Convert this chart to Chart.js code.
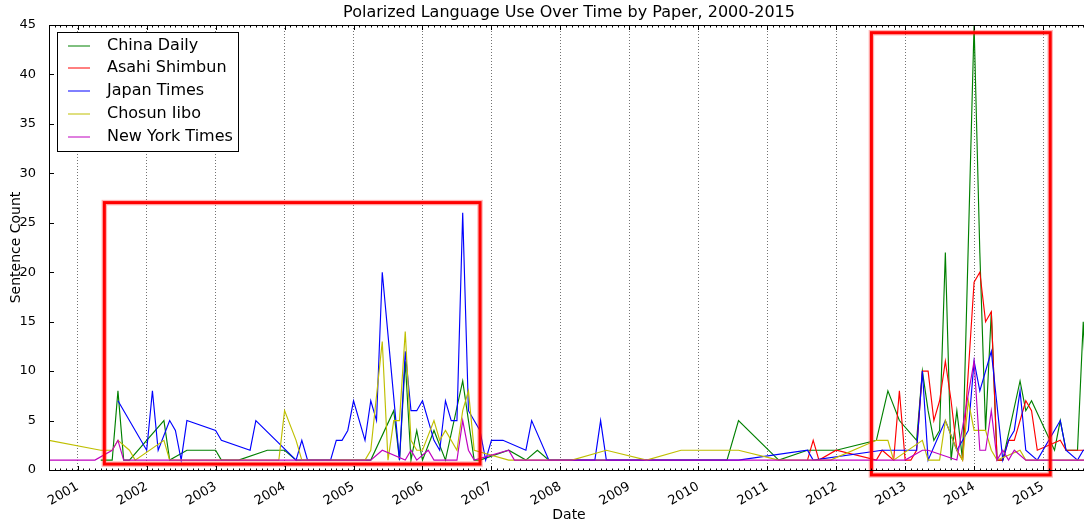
<!DOCTYPE html>
<html>
<head>
<meta charset="utf-8">
<script src="https://cdn.jsdelivr.net/npm/chart.js"></script>
<style>
  html,body{margin:0;padding:0;background:#fff;overflow:hidden}
  #wrap{position:absolute;left:0;top:0;width:1100px;height:522px}
</style>
</head>
<body>
<div id="wrap"><canvas id="chart" width="1100" height="522"></canvas></div>
<script>
// ---- data: monthly sentence counts per paper ('YYYY-MM') ----
const chinaDailyDates = ['2001-05','2001-07','2001-08','2001-09','2001-10','2002-04','2002-05','2002-08','2003-01','2003-02','2003-05','2003-10','2004-01','2004-03','2005-04','2005-08','2005-09','2005-10','2005-11','2005-12','2006-01','2006-03','2006-05','2006-08','2006-10','2006-11','2007-04','2007-07','2007-09','2007-11','2010-06','2010-08','2011-03','2011-08','2012-01','2012-08','2012-10','2012-12','2013-03','2013-04','2013-05','2013-06','2013-07','2013-08','2013-09','2013-10','2013-11','2014-01','2014-02','2014-03','2014-04','2014-05','2014-06','2014-09','2014-10','2014-11','2015-03','2015-04','2015-05','2015-07','2015-08','2015-09'];
const chinaDailyVals  = [1,1,8,1,1,5,1,2,2,1,1,2,2,1,1,6,1,11,1,4,1,4,1,9,1,1,2,1,2,1,1,5,1,2,2,3,8,5,3,10,6,3,4,22,1,6,1,45,22,4,16,1,1,9,6,7,2,5,2,2,15,2];

const asahiDates = ['2011-08','2011-09','2011-10','2012-01','2012-08','2012-09','2012-11','2012-12','2013-01','2013-02','2013-03','2013-04','2013-05','2013-06','2013-07','2013-08','2013-09','2013-10','2013-11','2014-01','2014-02','2014-03','2014-04','2014-05','2014-06','2014-07','2014-08','2014-10','2014-11','2014-12','2015-04','2015-05','2015-08','2015-09'];
const asahiVals  = [1,3,1,2,1,2,1,8,1,1,2,10,10,5,7,11,7,2,1,19,20,15,16,1,1,3,3,7,6,2,3,2,2,2];

const japanTimesDates = ['2001-08','2002-01','2002-02','2002-03','2002-05','2002-06','2002-07','2002-08','2003-01','2003-02','2003-07','2003-08','2004-03','2004-04','2004-05','2004-09','2004-10','2004-11','2004-12','2005-01','2005-03','2005-04','2005-05','2005-06','2005-09','2005-10','2005-11','2005-12','2006-01','2006-03','2006-04','2006-05','2006-06','2006-07','2006-08','2006-09','2006-11','2006-12','2007-01','2007-03','2007-07','2007-08','2007-11','2008-07','2008-08','2008-09','2010-08','2011-08','2011-09','2012-09','2013-03','2013-04','2013-05','2013-08','2013-10','2013-12','2014-01','2014-02','2014-04','2014-06','2014-07','2014-08','2014-09','2014-10','2014-12','2015-04','2015-05','2015-07','2015-08','2015-09'];
const japanTimesVals  = [7,2,8,2,5,4,1,5,4,3,2,5,1,3,1,1,3,3,4,7,3,7,5,20,1,12,6,6,7,3,2,7,5,5,26,6,4,1,3,3,2,5,1,1,5,1,1,2,1,2,2,10,1,5,2,4,11,8,12,1,3,4,8,2,1,5,2,1,2,2];

const chosunDates = ['2000-08','2001-05','2001-07','2001-08','2001-10','2001-11','2002-04','2002-05','2003-12','2004-01','2004-03','2004-04','2005-03','2005-04','2005-06','2005-07','2005-08','2005-09','2005-10','2005-11','2005-12','2006-01','2006-03','2006-04','2006-05','2006-07','2006-08','2006-09','2006-10','2007-04','2008-03','2008-09','2009-04','2009-10','2010-08','2011-03','2011-12','2012-08','2012-10','2012-11','2013-04','2013-05','2013-07','2013-08','2013-10','2013-11','2013-12','2014-01','2014-03','2014-04','2014-05','2014-09','2014-10','2015-09'];
const chosunVals  = [3,2,2,3,2,1,3,1,1,6,3,1,1,2,13,1,5,5,14,3,2,2,5,3,4,2,6,8,2,1,1,2,1,2,2,1,1,3,3,1,3,1,1,5,2,1,7,4,4,2,1,2,1,1];

const nytDates = ['2000-08','2001-04','2001-07','2001-08','2001-09','2005-04','2005-06','2005-10','2005-11','2005-12','2006-02','2006-03','2006-07','2006-08','2006-09','2006-10','2007-04','2007-05','2013-01','2013-04','2013-05','2013-10','2014-01','2014-02','2014-03','2014-04','2014-05','2014-06','2014-07','2014-08','2014-10','2015-09'];
const nytVals  = [1,1,2,3,1,1,2,1,2,1,2,1,1,5,2,1,2,1,1,2,2,1,11,2,2,6,1,2,1,2,1,1];

const seriesNames  = ['China Daily','Asahi Shimbun','Japan Times','Chosun Iibo','New York Times'];
const seriesColors = ['#008000','#ff0000','#0000ff','#bfbf00','#bf00bf'];

const yearTicks = [2001,2002,2003,2004,2005,2006,2007,2008,2009,2010,2011,2012,2013,2014,2015];
const countTicks = [0,5,10,15,20,25,30,35,40,45];
const X_START = '2000-08', X_END = '2015-09';

// highlight rectangles (decimal year, count)
const highlightX0 = [2001.386, 2012.511];
const highlightX1 = [2006.835, 2015.104];
const highlightY0 = [0.6, -0.5];
const highlightY1 = [27.04, 44.22];

function toYear(s){ const p = s.split('-').map(Number); return p[0] + (p[1]-1)/12; }
function pts(dates, vals){ return dates.map((d,i)=>({x:toYear(d), y:vals[i]})); }

const FONT = 'DejaVu Sans';

// ---- plugins ----
const highlightPlugin = {
  id:'highlight',
  afterDatasetsDraw(chart){
    const {ctx} = chart, xs = chart.scales.x, ys = chart.scales.y;
    ctx.save();
    for(let i=0;i<highlightX0.length;i++){
      const x0 = xs.getPixelForValue(highlightX0[i]), x1 = xs.getPixelForValue(highlightX1[i]);
      const y0 = ys.getPixelForValue(highlightY1[i]), y1 = ys.getPixelForValue(highlightY0[i]);
      ctx.strokeStyle = 'rgba(255,40,40,0.35)'; ctx.lineWidth = 5.5;
      ctx.strokeRect(x0, y0, x1-x0, y1-y0);
      ctx.strokeStyle = '#ff0000'; ctx.lineWidth = 3;
      ctx.strokeRect(x0, y0, x1-x0, y1-y0);
    }
    ctx.restore();
  }
};

const framePlugin = {
  id:'frameTicks',
  afterDraw(chart){
    const {ctx, chartArea:a} = chart, xs = chart.scales.x, ys = chart.scales.y;
    const L = Math.round(a.left)+0.5, R = Math.round(a.right)+0.5, T = Math.round(a.top)+0.5, B = Math.round(a.bottom)+0.5;
    ctx.save();
    ctx.strokeStyle = '#000'; ctx.lineWidth = 1;
    ctx.strokeRect(L, T, R-L, B-T);
    ctx.beginPath();
    const k0 = Math.ceil(xs.min*12-1e-6), k1 = Math.floor(xs.max*12+1e-6);
    for(let k=k0;k<=k1;k++){
      const x = Math.round(xs.getPixelForValue(k/12))+0.5;
      const len = (k%12===0) ? 4.5 : 2;
      ctx.moveTo(x, B); ctx.lineTo(x, B-len);
      ctx.moveTo(x, T); ctx.lineTo(x, T+len);
    }
    countTicks.forEach(v=>{
      const y = Math.round(ys.getPixelForValue(v))+0.5;
      ctx.moveTo(L, y); ctx.lineTo(L+4.5, y);
      ctx.moveTo(R, y); ctx.lineTo(R-4.5, y);
    });
    ctx.stroke();
    ctx.restore();
  }
};

const legendPlugin = {
  id:'legendBox',
  afterDraw(chart){
    const {ctx, chartArea:a} = chart;
    const x0 = Math.round(a.left)+8, y0 = Math.round(a.top)+7, w = 181, h = 119;
    ctx.save();
    ctx.fillStyle = '#fff'; ctx.fillRect(x0, y0, w, h);
    ctx.strokeStyle = '#000'; ctx.lineWidth = 1; ctx.strokeRect(x0+0.5, y0+0.5, w, h);
    ctx.font = '16px "' + FONT + '"'; ctx.textBaseline = 'middle'; ctx.textAlign = 'left';
    chart.data.datasets.forEach((ds,i)=>{
      const y = Math.round(y0 + 13.5 + i*22.9);
      ctx.strokeStyle = ds.borderColor; ctx.lineWidth = 1;
      ctx.beginPath(); ctx.moveTo(x0+11, y); ctx.lineTo(x0+33, y); ctx.stroke();
      ctx.fillStyle = '#000'; ctx.fillText(ds.label, x0+50, y);
    });
    ctx.restore();
  }
};

// ---- chart ----
const allDates = [chinaDailyDates, asahiDates, japanTimesDates, chosunDates, nytDates];
const allVals  = [chinaDailyVals, asahiVals, japanTimesVals, chosunVals, nytVals];

new Chart(document.getElementById('chart').getContext('2d'), {
  type:'line',
  data:{
    datasets: seriesNames.map((name,i)=>({
      label:name, data:pts(allDates[i], allVals[i]),
      borderColor:seriesColors[i], backgroundColor:seriesColors[i],
      borderWidth:1.15, pointRadius:0, tension:0, fill:false, order:4-i
    }))
  },
  options:{
    responsive:false, animation:false, devicePixelRatio:1,
    layout:{ padding:{top:0, right:11, left:0, bottom:0} },
    plugins:{
      legend:{display:false}, tooltip:{enabled:false},
      title:{ display:true, fullSize:false, text:'Polarized Language Use Over Time by Paper, 2000-2015', color:'#000',
        font:{family:FONT, size:16, weight:'normal'}, padding:{top:3, bottom:2.8} }
    },
    scales:{
      x:{
        type:'linear', min:toYear(X_START), max:toYear(X_END),
        afterBuildTicks: s=>{ s.ticks = yearTicks.map(v=>({value:v})); },
        afterFit: s=>{ s.height = 52; },
        grid:{ display:true, drawTicks:false, color:'rgba(0,0,0,0.55)', lineWidth:1 },
        border:{ display:false, dash:[1,2] },
        ticks:{ autoSkip:false, minRotation:30, maxRotation:30, padding:9, color:'#000',
          font:{family:FONT, size:13}, callback: v=>String(v) },
        title:{ display:true, text:'Date', color:'#000', font:{family:FONT, size:14, lineHeight:1.0}, padding:{top:0, bottom:0} }
      },
      y:{
        min:0, max:45,
        afterBuildTicks: s=>{ s.ticks = countTicks.map(v=>({value:v})); },
        afterFit: s=>{ s.width = 49; },
        grid:{ display:false }, border:{ display:false },
        ticks:{ padding:5, color:'#000', font:{family:FONT, size:13}, callback: v=>String(v) },
        title:{ display:true, text:'Sentence Count', color:'#000', font:{family:FONT, size:14}, padding:{top:8, bottom:0} }
      }
    }
  },
  plugins:[highlightPlugin, framePlugin, legendPlugin]
});
</script>
</body>
</html>
